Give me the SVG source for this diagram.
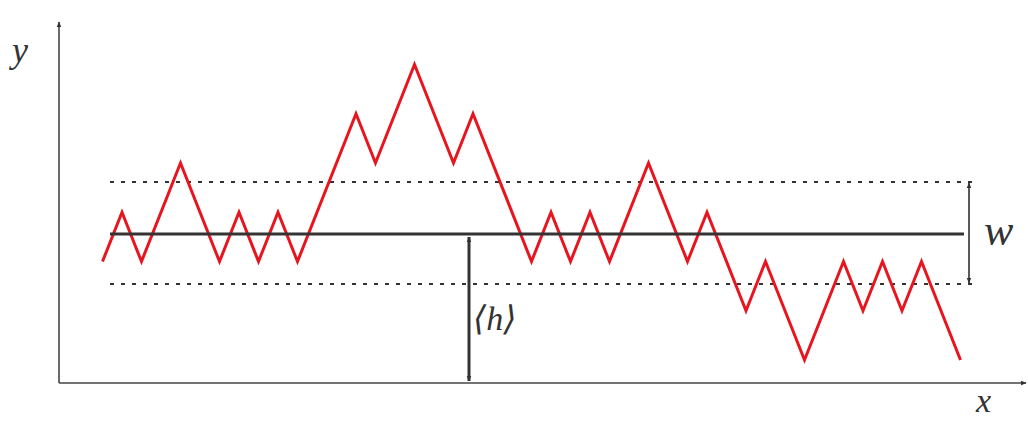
<svg xmlns="http://www.w3.org/2000/svg" width="1028" height="421" viewBox="0 0 1028 421">
<style>
.axis{stroke:#444;stroke-width:1.6;fill:none}
.lbl{font-family:"Liberation Serif","DejaVu Serif",serif;font-style:italic;fill:#333}
.dot{stroke:#333;stroke-width:2;stroke-dasharray:4 7;fill:none}
</style>
<defs>
<marker id="ah" viewBox="0 0 10 10" refX="9" refY="5" markerWidth="6" markerHeight="6" orient="auto-start-reverse" markerUnits="userSpaceOnUse">
<path d="M0,1 L10,5 L0,9 Z" fill="#333"/>
</marker>
</defs>
<rect width="1028" height="421" fill="#fff"/>
<g id="axes">
<line class="axis" x1="59" y1="383" x2="59" y2="22" marker-end="url(#ah)"/>
<line class="axis" x1="59" y1="383" x2="1026" y2="383" marker-end="url(#ah)"/>
<text class="lbl" x="12" y="62" font-size="36">y</text>
<text class="lbl" x="976" y="412" font-size="34">x</text>
</g>
<g id="levels">
<line class="dot" x1="110" y1="182" x2="972" y2="182"/>
<line class="dot" x1="110" y1="284" x2="972" y2="284"/>
</g>
<g id="walk">
<polyline fill="none" stroke="#e8141e" stroke-width="3" stroke-linejoin="miter" points="102.5,261.5 122,212.25 141.5,261.5 180.5,163 219.5,261.5 239,212.25 258.5,261.5 278,212.25 297.5,261.5 356,113.75 375.5,163 414.5,64.5 453.5,163 473,113.75 531.5,261.5 551,212.25 570.5,261.5 590,212.25 609.5,261.5 648.5,163 687.5,261.5 707,212.25 746,310.75 765.5,261.5 804.5,360 843.5,261.5 863,310.75 882.5,261.5 902,310.75 921.5,261.5 960.5,360"/>
</g>
<g id="mean">
<line x1="110" y1="234" x2="964" y2="234" stroke="#333" stroke-width="3"/>
</g>
<g id="connectors">
<line x1="969" y1="232" x2="969" y2="183" stroke="#222" stroke-width="1.5" marker-end="url(#ah)"/>
<line x1="969" y1="232" x2="969" y2="283" stroke="#222" stroke-width="1.5" marker-end="url(#ah)"/>
<line x1="469" y1="308" x2="469" y2="237" stroke="#333" stroke-width="3" marker-end="url(#ah)"/>
<line x1="469" y1="308" x2="469" y2="381" stroke="#333" stroke-width="3" marker-end="url(#ah)"/>
</g>
<g id="labels">
<text class="lbl" x="984" y="245" font-size="44">w</text>
<text class="lbl" x="473" y="330" font-size="34">⟨h⟩</text>
</g>
</svg>
